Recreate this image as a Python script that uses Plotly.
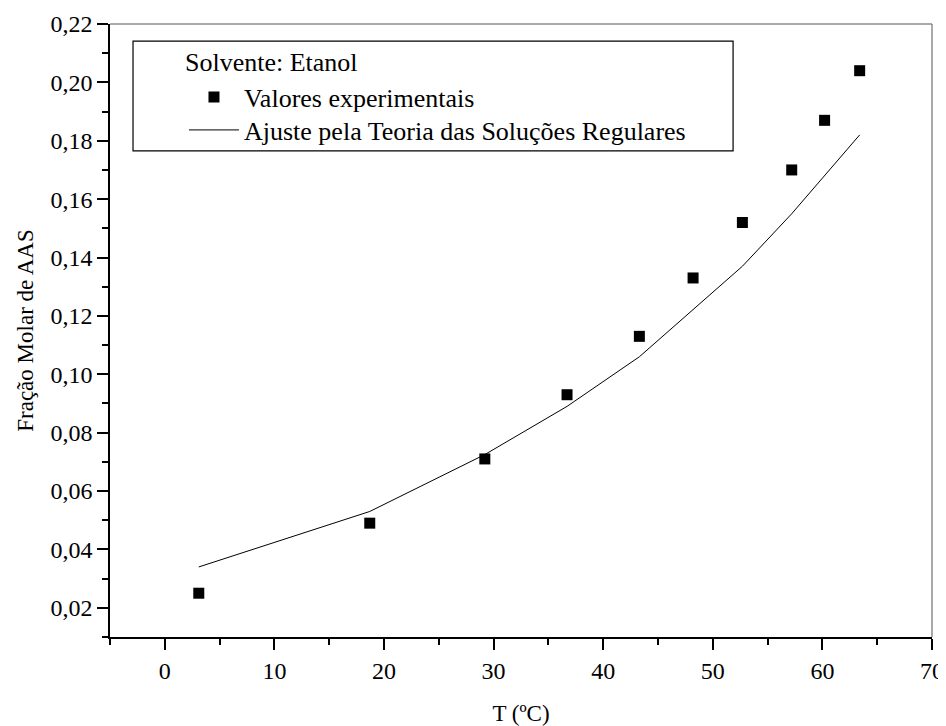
import plotly.graph_objects as go

# Data
temp_exp = [3.1, 18.7, 29.2, 36.7, 43.3, 48.2, 52.7, 57.2, 60.2, 63.4]
frac_exp = [0.025, 0.049, 0.071, 0.093, 0.113, 0.133, 0.152, 0.170, 0.187, 0.204]

temp_fit = [3.1, 18.7, 29.2, 36.7, 43.3, 48.2, 52.7, 57.2, 60.2, 63.4]
frac_fit = [0.034, 0.053, 0.0725, 0.089, 0.106, 0.122, 0.137, 0.155, 0.168, 0.182]

x_ticks = [0, 10, 20, 30, 40, 50, 60, 70]
y_ticks = [0.02, 0.04, 0.06, 0.08, 0.10, 0.12, 0.14, 0.16, 0.18, 0.20, 0.22]

name_exp = "Valores experimentais"
name_fit = "Ajuste pela Teoria das Soluções Regulares"
legend_title = "Solvente: Etanol"
x_title = "T (ºC)"
y_title = "Fração Molar de AAS"

FONT = "Liberation Serif"

fig = go.Figure()
fig.add_trace(go.Scatter(
    x=temp_exp, y=frac_exp, mode="markers", name=name_exp, legend="legend",
    marker=dict(symbol="square", size=11, color="black", line=dict(width=0)),
))
fig.add_trace(go.Scatter(
    x=temp_fit, y=frac_fit, mode="lines", name=name_fit, legend="legend2",
    line=dict(color="black", width=1),
))

axis_common = dict(
    showline=True, linecolor="black", linewidth=1.5,
    ticks="outside", ticklen=11, tickwidth=1.5, tickcolor="black",
    showgrid=False, zeroline=False, mirror=False, automargin=False,
    tickfont=dict(family=FONT, size=24, color="black"),
)

fig.update_xaxes(
    range=[-5, 70], tickmode="array", tickvals=x_ticks,
    ticktext=[str(v) for v in x_ticks],
    minor=dict(dtick=5, tick0=0, ticks="outside", ticklen=6, tickwidth=1.5, tickcolor="black", showgrid=False),
    title=dict(text=x_title, font=dict(family=FONT, size=23, color="black"), standoff=22),
    **axis_common,
)
fig.update_yaxes(
    range=[0.01, 0.22], tickmode="array", tickvals=y_ticks,
    ticktext=[f"{v:.2f}".replace(".", ",") for v in y_ticks],
    minor=dict(dtick=0.01, tick0=0, ticks="outside", ticklen=6, tickwidth=1.5, tickcolor="black", showgrid=False),
    title=dict(text=y_title, font=dict(family=FONT, size=23, color="black"), standoff=10),
    **axis_common,
)

# top and right frame lines
fig.add_shape(type="line", xref="paper", yref="paper", x0=0, x1=1, y0=1, y1=1,
              line=dict(color="#555555", width=1))
fig.add_shape(type="line", xref="paper", yref="paper", x0=1, x1=1, y0=0, y1=1,
              line=dict(color="#555555", width=1))
# legend frame
fig.add_shape(type="rect", xref="paper", yref="paper",
              x0=0.028, x1=0.758, y0=0.793, y1=0.972,
              line=dict(color="black", width=1.2), fillcolor="rgba(0,0,0,0)")

fig.add_annotation(text=legend_title, xref="paper", yref="paper",
                   x=0.0888, y=0.9364, xanchor="left", yanchor="middle",
                   showarrow=False, font=dict(family=FONT, size=26, color="black"))

leg_common = dict(
    xanchor="left", yanchor="top",
    bgcolor="rgba(0,0,0,0)", borderwidth=0,
    font=dict(family=FONT, size=26, color="black"),
    itemwidth=50,
)

# The page body has an 8px margin, so the figure is 8px smaller on each side
fig.update_layout(
    width=938, height=718,
    margin=dict(l=102, r=14, t=16, b=89),
    paper_bgcolor="white", plot_bgcolor="white",
    font=dict(family=FONT, size=23, color="black"),
    showlegend=True,
    legend=dict(x=0.090, y=0.919, **leg_common),
    legend2=dict(x=0.090, y=0.8654, **leg_common),
)

fig.write_html("out.html")
